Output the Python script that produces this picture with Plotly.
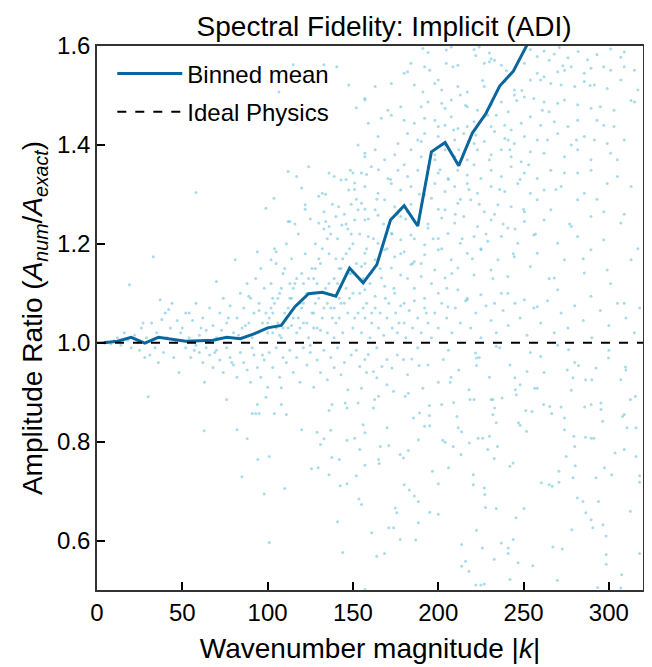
import plotly.graph_objects as go

# ---- binned mean ----
bin_k = [4, 12, 20, 28, 36, 44, 52, 60, 68, 76, 84, 92, 100, 108, 116, 124, 132, 140, 148, 156,
         164, 172, 180, 188, 196, 204, 212, 220, 228, 236, 244, 252, 260, 268]
bin_mean = [1.000, 1.003, 1.011, 0.999, 1.011, 1.007, 1.003, 1.004, 1.005, 1.011, 1.008, 1.018,
            1.030, 1.035, 1.073, 1.099, 1.102, 1.094, 1.151, 1.121, 1.158, 1.248, 1.277, 1.236,
            1.386, 1.405, 1.358, 1.424, 1.464, 1.519, 1.549, 1.602, 1.65, 1.70]

ideal_k = [0, 320]
ideal_r = [1.0, 1.0]

# ---- scatter samples (k, ratio) ----
pts_low_k = [
    (3,1.00),(6,1.002),(8,0.998),(10,1.004),(12,1.01),(14,0.995),(16,1.02),(18,1.005),(19,1.117),
    (20,0.99),(22,1.015),(24,1.00),(25,0.985),(26,1.03),(27,1.04),(28,0.97),(29,1.01),(30,0.891),
    (31,0.975),(32,1.04),(33,1.174),(34,0.99),(35,1.02),(36,0.96),(37,1.087),(38,1.047),(39,0.98),
    (40,1.06),(41,1.01),(42,1.067),(43,1.03),(44,1.08),(45,0.97),(46,1.0),(47,1.045),(48,0.94),(49,1.02),
]
pts_mid_k = [
    (50,1.03),(52,1.06),(54,1.06),(56,1.045),(58,1.08),(58,1.304),(60,1.015),(62,1.05),(64,1.025),
    (66,1.07),(68,1.035),(70,1.124),(70,1.01),(72,1.06),(74,1.09),(76,1.04),(78,1.075),(81,1.168),
    (89,1.094),(94,1.184),(80,1.02),(82,1.05),(84,1.10),(85,1.03),(86,1.07),(88,1.12),(89,1.04),
    (90,1.09),(91,1.01),(92,1.06),(93,1.13),(94,1.02),(95,1.08),(96,1.15),(97,1.04),(98,1.11),
    (99,1.06),(100,1.02),(99,1.272),
    (52,0.99),(55,0.97),(58,0.995),(60,0.98),(62,0.96),(63,0.92),(64,0.99),(66,0.975),(68,0.95),
    (70,0.985),(72,0.965),(74,0.94),(76,0.99),(76,0.885),(78,0.97),(80,0.955),(82,0.93),(84,0.98),
    (86,0.96),(88,0.945),(90,0.92),(92,0.975),(94,0.95),(96,0.93),(98,0.965),(99,0.89),(100,0.91),
    (62.8,0.822),(82,0.824),(85,0.729),(88,0.806),(91,0.857),(93,0.857),(95,0.857),(94,0.875),
    (94.3,0.764),(98,0.694),
    (54,1.01),(57,0.985),(61,1.03),(65,1.005),(69,0.98),(73,1.025),(77,1.05),(79,0.96),(83,1.015),
    (87,1.035),(91,0.99),(95,1.065),(97,0.975),
]
pts_k100 = [
    (101,1.05),(102,1.12),(103,1.02),(104,1.08),(105,1.16),(106,1.04),(107,1.10),(108,1.01),(109,1.14),
    (110,1.06),(111,1.20),(112,1.03),(113,1.09),(114,1.17),(115,1.05),(116,1.12),(117,1.02),(118,1.22),
    (119,1.08),(120,1.14),(121,1.04),(122,1.18),(123,1.10),(124,1.01),(125,1.25),(126,1.06),(127,1.13),
    (128,1.20),(129,1.03),(130,1.09),(131,1.16),(132,1.05),(133,1.23),(134,1.11),(135,1.02),(136,1.18),
    (137,1.07),(138,1.28),(139,1.13),(140,1.04),(141,1.21),(142,1.09),(143,1.15),(144,1.02),(145,1.26),
    (146,1.11),(147,1.06),(148,1.19),(149,1.14),(150,1.03),
    (102,1.07),(105,1.03),(108,1.11),(111,1.05),(114,1.09),(117,1.13),(120,1.07),(123,1.04),(126,1.15),
    (129,1.12),(132,1.19),(135,1.08),(138,1.05),(141,1.12),(144,1.17),(147,1.23),(150,1.10),(104,1.19),
    (110,1.15),(116,1.24),(122,1.27),(128,1.08),(134,1.30),(140,1.17),(146,1.33),(103,1.09),(113,1.12),
    (119,1.03),(127,1.06),(137,1.22),(143,1.08),(149,1.28),(102,1.168),(105,1.184),(113,1.245),
    (146,1.24),(150,1.20),(152,1.16),(154,1.22),(156,1.13),(158,1.19),(148,1.09),(153,1.06),(157,1.27),(151,1.31),
    (100,1.04),(103,1.06),(106,1.09),(109,1.03),(112,1.07),(115,1.11),(118,1.05),(121,1.08),(124,1.13),
    (127,1.03),(130,1.17),(133,1.07),(136,1.12),(139,1.01),(142,1.15),(145,1.08),(148,1.14),(151,1.05),
    (154,1.10),(157,1.16),(107,1.015),(114,1.035),(121,1.12),(128,1.15),(135,1.21),(142,1.05),(149,1.22),
    (156,1.07),(159,1.25),(125,0.995),(131,1.025),(139,1.07),(146,1.18),(152,1.29),(158,1.34),
    (101,0.98),(103,0.95),(105,0.99),(107,0.93),(109,0.97),(111,0.96),(113,0.985),(115,0.94),(117,0.97),
    (119,0.92),(121,0.99),(123,0.955),(125,0.98),(127,0.91),(129,0.965),(131,0.94),(133,0.985),(135,0.925),
    (137,0.97),(139,0.95),(141,0.99),(143,0.935),(145,0.96),(147,0.905),(149,0.975),
    (101,0.77),(101,0.596),(104,0.857),(108,0.875),(108,0.909),(110,0.705),(111,0.855),(120,0.824),
    (125.7,0.745),(129,0.819),(129.6,0.747),(131,0.794),(133,0.806),(136,0.863),(136,0.733),(137,0.823),
    (137.6,0.768),(137.7,0.875),(141,0.638),(142,0.764),(142.6,0.711),(144,0.576),(145.5,0.878),
    (146.5,0.868),(146.5,0.803),(146.5,0.715),
]
pts_upper_left = [
    (115,1.562),(133,1.562),(140.5,1.558),(106.6,1.507),(147.5,1.521),(157,1.491),(152,1.475),(153,1.40),
    (157,1.376),(124,1.356),(112,1.346),(117,1.336),(120,1.313),(136,1.343),(139,1.336),(143,1.329),
    (148.5,1.349),(150,1.343),(151,1.323),(147.5,1.309),(103.7,1.292),(112,1.245),(130,1.242),(134,1.245),
    (136,1.235),(140,1.255),(143.5,1.238),(151,1.248),(153,1.269),(141.6,1.275),(133,1.265),(122,1.279),
    (130,1.296),(132,1.302),
]
pts_upper = [
    (191,1.595),(194,1.587),(204.7,1.592),(207.6,1.598),(221,1.593),(222,1.581),(224,1.598),(230,1.586),
    (231,1.574),(254,1.593),(258,1.579),(262,1.590),(265,1.571),(268,1.584),(271,1.597),(276,1.576),
    (282,1.589),(287.5,1.572),(293,1.583),(301,1.594),(307,1.577),(309,1.588),
    (184,1.565),(182,1.548),(180,1.545),(192,1.558),(195,1.551),(204.7,1.565),(208.6,1.558),(211.5,1.561),
    (227,1.565),(230,1.568),(233,1.571),(237,1.561),(250.5,1.565),(258,1.545),(262,1.538),(270,1.548),
    (274,1.551),(278,1.558),(285.6,1.545),(289.5,1.555),(297,1.558),(301,1.551),(309,1.558),(315,1.551),
    (163,1.518),(172.5,1.524),(186,1.521),(191,1.507),(198,1.524),(200,1.531),(202,1.511),(211.5,1.518),
    (213,1.501),(217,1.507),(227,1.518),(239,1.528),(244.6,1.511),(254,1.531),(260,1.531),(266,1.524),
    (272,1.521),(280,1.518),(285.6,1.528),(291.5,1.521),(299,1.514),(307,1.531),(317,1.511),
    (157,1.494),(170.5,1.470),(178,1.477),(190,1.477),(194,1.487),(202,1.484),(204,1.474),(207.6,1.491),
    (217,1.477),(223,1.470),(231,1.481),(237,1.487),(241,1.467),(244.6,1.501),(250.5,1.497),(256,1.494),
    (262,1.487),(265,1.467),(270,1.484),(274,1.491),(281.7,1.481),(289.5,1.474),(295,1.477),(303,1.470),
    (315,1.487),
    (159,1.444),(166.7,1.454),(172.5,1.460),(180,1.450),(186,1.444),(192,1.454),(198,1.450),(200,1.437),
    (207.6,1.457),(211.5,1.433),(217,1.437),(221,1.447),(227,1.457),(231,1.437),(239,1.440),(242.7,1.430),
    (248.6,1.444),(254,1.457),(260,1.440),(268,1.447),(276,1.437),(281.7,1.450),(293,1.450),(303,1.437),
    (164.7,1.417),(176.4,1.403),(182,1.423),(190,1.407),(192,1.423),(200,1.417),(204,1.400),(209.6,1.410),
    (215,1.423),(221,1.403),(227,1.407),(233,1.427),(239,1.413),(244.6,1.403),(250.5,1.417),(258,1.410),
    (264,1.410),(270,1.423),(278,1.400),(285.6,1.417),(291.5,1.410),(299,1.403),(309,1.410),
    (157,1.383),(163,1.390),(168.6,1.370),(174.5,1.380),(184,1.390),(190,1.376),(198,1.370),(204,1.390),
    (209.6,1.376),(217,1.370),(223,1.390),(231,1.380),(237,1.390),(242.7,1.376),(248.6,1.366),(254,1.386),
    (262,1.383),(274,1.376),(281.7,1.390),(289.5,1.370),(301,1.383),
    (155,1.343),(160.8,1.356),(170.5,1.332),(176.4,1.349),(182,1.336),(188,1.349),(194,1.356),(200,1.343),
    (205.7,1.332),(211.5,1.349),(217,1.339),(225,1.332),(231,1.349),(237,1.336),(242.7,1.356),(250.5,1.343),
    (258,1.332),(266,1.349),(274,1.343),(281.7,1.343),(289.5,1.349),(305,1.336),
    (157,1.316),(164.7,1.302),(172.5,1.322),(178,1.309),(184,1.316),(192,1.299),(198,1.322),(204,1.306),
    (209.6,1.316),(217,1.322),(223,1.302),(231,1.316),(239,1.306),(246.6,1.322),(254,1.302),(262,1.309),
    (272,1.316),(285.6,1.302),(299,1.322),(313,1.316),
    (155,1.282),(163,1.269),(168.6,1.289),(174.5,1.275),(182,1.265),(190,1.279),(196,1.292),(204,1.269),
    (211.5,1.282),(219,1.289),(227,1.265),(235,1.279),(242.7,1.275),(250.5,1.265),(258,1.289),(266,1.269),
    (281.7,1.289),(297,1.265),
    (157,1.248),(164.7,1.258),(170.5,1.235),(178,1.255),(186,1.245),(194,1.232),(202,1.252),(209.6,1.242),
    (215,1.255),(223,1.235),(231,1.248),(240.8,1.232),(250.5,1.245),(262,1.248),(278,1.235),(289.5,1.255),
    (307,1.242),
    (159,1.215),(164.7,1.201),(172.5,1.221),(178,1.208),(184,1.218),(192,1.198),(200,1.211),(205.7,1.221),
    (213,1.201),(221,1.215),(229,1.205),(237,1.215),(246.6,1.201),(256,1.218),(270,1.201),(281.7,1.215),
    (297,1.208),
    (157,1.181),(163,1.168),(168.6,1.188),(174.5,1.174),(180,1.184),(186,1.164),(192,1.178),(200,1.188),
    (207.6,1.168),(217,1.181),(225,1.188),(235,1.168),(244.6,1.174),(258,1.181),(274,1.168),(289.5,1.188),
    (313,1.168),
    (155,1.154),(160.8,1.141),(166.7,1.131),(172.5,1.151),(178,1.137),(184,1.158),(190,1.134),(198,1.147),
    (204,1.131),(211.5,1.151),(221,1.137),(231,1.147),(240.8,1.134),(254,1.154),(268,1.131),(285.6,1.141),
    (299,1.147),
    (157,1.107),(163,1.094),(168.6,1.114),(174.5,1.100),(180,1.080),(186,1.110),(192,1.090),(200,1.100),
    (205.7,1.073),(211.5,1.107),(217,1.087),(225,1.097),(233,1.080),(240.8,1.100),(250.5,1.087),(258,1.073),
    (270,1.107),(289.5,1.094),(309,1.080),
    (160,1.12),(162,1.21),(164,1.29),(166,1.15),(168,1.24),(170,1.19),(172,1.33),(174,1.11),(176,1.26),
    (178,1.18),(180,1.36),(182,1.13),(184,1.28),(186,1.21),(188,1.41),(190,1.16),(192,1.31),(194,1.24),
    (196,1.12),(198,1.38),(200,1.27),(202,1.19),(204,1.44),(206,1.33),(208,1.14),(210,1.26),(212,1.39),
    (214,1.21),(216,1.48),(218,1.31),(220,1.17),(222,1.42),(224,1.28),(226,1.53),(228,1.22),(230,1.37),
    (232,1.13),(234,1.46),(236,1.31),(238,1.24),(240,1.55),(242,1.39),(244,1.18),(246,1.49),(248,1.33),
    (250,1.27),(161,1.06),(165,1.35),(169,1.09),(173,1.22),(177,1.04),(181,1.25),(185,1.16),(189,1.30),
    (193,1.06),(197,1.21),(201,1.35),(205,1.11),(209,1.43),(213,1.29),(217,1.09),(221,1.36),(225,1.19),
    (229,1.46),(233,1.26),(237,1.10),(241,1.41),(245,1.23),(249,1.51),
    (253,1.36),(257,1.22),(261,1.47),(265,1.13),(269,1.31),(273,1.56),(277,1.24),(281,1.41),(285,1.17),
    (289,1.52),(293,1.29),(297,1.44),(301,1.12),(305,1.37),(309,1.26),(313,1.49),(317,1.19),
]
pts_band = [
    (155,1.02),(157,1.05),(158,1.08),(160,1.01),(161,1.04),(163,1.07),(165,1.03),(166,1.06),(168,1.015),
    (170,1.05),(171,1.08),(173,1.03),(175,1.06),(176,1.02),(178,1.075),(180,1.04),(181,1.01),(183,1.065),
    (185,1.03),(186,1.085),(188,1.05),(190,1.02),(192,1.07),(194,1.04),(196,1.01),(198,1.06),(200,1.03),
    (202,1.08),(205,1.05),(208,1.02),(210,1.07),(213,1.04),(216,1.085),(219,1.03),(222,1.06),(225,1.01),
    (228,1.075),(231,1.045),(234,1.02),(238,1.065),(241,1.035),(245,1.08),(248,1.05),(252,1.015),(256,1.07),
    (260,1.04),(264,1.085),(268,1.02),(272,1.06),(276,1.03),(280,1.075),(285,1.045),(290,1.01),(295,1.065),
    (300,1.035),(305,1.08),(310,1.05),(315,1.02),(318,1.07),
    (152,0.985),(158,0.94),(164,0.99),(170,0.915),(176,0.975),(182,0.935),(188,0.99),(194,0.955),(200,0.92),
    (206,0.985),(212,0.945),(218,0.905),(224,0.97),(230,0.93),(236,0.99),(242,0.955),(248,0.915),(254,0.98),
    (262,0.94),(270,0.995),(280,0.96),(290,0.925),(300,0.985),(310,0.945),
]
pts_lower = [
    (151,0.807),(152,0.731),(153,0.878),(153.5,0.684),(154,0.784),(155,0.673),(156,0.834),(157,0.818),
    (157,0.752),(157,0.501),(159,0.976),(157,0.966),(154,0.952),(155,0.908),(161,0.616),(164,0.568),
    (168.5,0.574),(162,0.942),(164,0.929),(162.7,0.885),(165,0.892),(162,0.868),(170,0.828),(171,0.792),
    (166,0.79),(165,0.764),(165.4,0.756),(167,0.952),(170,0.966),(172.8,0.949),(173.8,0.902),(174.8,0.666),
    (175.7,0.656),(171,0.626),(173.8,0.626),(177.7,0.602),(177.7,0.774),(179.6,0.767),(180,0.713),
    (182.5,0.782),(183,0.702),(179.6,0.966),(180.6,0.892),(182.5,0.898),(184.5,0.967),(185.5,0.848),
    (186,0.69),(186.8,0.601),(188.4,0.804),(188.4,0.679),(188.4,0.636),(188.8,0.954),(191,0.908),
    (189,0.858),(192,0.831),(194.8,0.873),(194.8,0.853),(195,0.832),(195,0.657),(196.6,0.74),(200,0.715),
    (200,0.653),(202,0.875),(202.6,0.803),(204,0.799),(206,0.747),(203,0.966),(207.5,0.93),(207,0.92),
    (208.8,0.79),(209,0.879),(211,0.851),(211.7,0.828),(213.3,0.774),(213.7,0.82),(213.7,0.592),
    (213.7,0.548),(216,0.558),(218,0.538),(218.2,0.797),(218.6,0.885),(220.5,0.733),(220.5,0.713),
    (221,0.885),(221.8,0.979),(222.4,0.969),(222.4,0.954),(222.4,0.621),(222,0.51),(225,0.51),(227,0.512),
    (223.4,0.807),(226,0.807),(225.8,0.585),(227,0.706),(227.3,0.693),(227.7,0.667),(229,0.784),(230,0.811),
    (231,0.885),(232,0.885),(233,0.868),(232,0.855),(234,0.838),(232.8,0.766),(234.7,0.79),(234,0.665),
    (234,0.993),(232.8,0.562),(237,0.595),(237.4,0.888),(241,0.585),(241,0.574),(242,0.521),(242,0.75),
    (243.9,0.757),(243.9,0.602),(245.2,0.905),(244.9,0.929),(245.8,0.895),(245.6,0.646),(246.8,0.555),
    (247,0.838),(248,0.833),(250.3,0.665),(251.3,0.863),(251.7,0.821),(252,0.942),(255,0.861),(255.4,0.549),
    (256.5,0.908),(258,0.908),(260,0.972),(260.4,0.717),(261.8,0.875),(265,0.713),(265.3,0.871),
    (266.5,0.857),(266.8,0.71),(267.2,0.587),(269.8,0.519),(270.7,0.74),(270.7,0.718),(272,0.87),
    (272.7,0.583),(274,0.848),(274,0.824),(275,0.77),(275.6,0.945),(276.4,0.986),(278,0.904),(279,0.727),
    (278.3,0.622),(279,0.929),(279.5,0.811),(280,0.79),(280.3,0.751),(281.5,0.686),(282.2,0.954),
    (284.8,0.679),(285.8,0.87),(286.3,0.925),(286.3,0.809),(286.5,0.656),(289.6,0.807),(289.6,0.642),
    (290.6,0.626),(289.6,0.875),(291.2,0.807),(292.5,0.949),(292.5,0.727),(293.9,0.679),(295.4,0.878),
    (295.4,0.865),(296.4,0.841),(296.6,0.632),(297.4,0.747),(298.4,0.609),(298.4,0.572),(298.4,0.552),
    (299.8,0.969),(301.7,0.733),(303.6,0.777),(307,0.925),(307.5,0.531),(308,0.851),(309,0.855),(309,0.784),
    (309.7,0.951),(310.6,0.828),(312.6,0.659),(312.6,0.885),(315.5,0.892),(315.9,0.828),(315.9,0.77),
    (318,0.731),(318,0.718),(318,0.574),(293.5,0.505),(307,0.504),
]

all_pts = pts_low_k + pts_mid_k + pts_k100 + pts_upper_left + pts_upper + pts_band + pts_lower
scatter_k = [p[0] for p in all_pts]
scatter_r = [p[1] for p in all_pts]

FONT = "Liberation Sans, Arial, sans-serif"

fig = go.Figure()
fig.add_trace(go.Scatter(
    x=scatter_k, y=scatter_r, mode="markers",
    marker=dict(size=3, color="rgba(110,195,222,0.6)", line=dict(width=0)),
    showlegend=False, hoverinfo="skip"))
fig.add_trace(go.Scatter(
    x=bin_k, y=bin_mean, mode="lines", name="Binned mean", legendgroup="a",
    line=dict(color="#0b669d", width=3)))
fig.add_trace(go.Scatter(
    x=ideal_k, y=ideal_r, mode="lines", name="Ideal Physics", legendgroup="b",
    line=dict(color="black", width=2, dash="dash")))

axis_common = dict(
    showline=True, linecolor="#333333", linewidth=1.5, mirror=True,
    ticks="inside", ticklen=8, tickwidth=1.5, tickcolor="black",
    showgrid=False, zeroline=False,
    tickfont=dict(family=FONT, size=24, color="black"),
)
fig.update_xaxes(range=[0, 320], tickvals=[0, 50, 100, 150, 200, 250, 300],
                 title=dict(text="Wavenumber magnitude |<i>k</i>|",
                            font=dict(family=FONT, size=28, color="black"), standoff=14),
                 **axis_common)
fig.update_yaxes(range=[0.5, 1.6], tickvals=[0.6, 0.8, 1.0, 1.2, 1.4, 1.6], tickformat=".1f",
                 title=dict(text="Amplitude Ratio (<i>A</i><sub><i>num</i></sub>/<i>A</i><sub><i>exact</i></sub>)",
                            font=dict(family=FONT, size=28, color="black"), standoff=6),
                 **axis_common)
fig.update_layout(
    width=644, height=659,
    margin=dict(l=89, r=7, t=38, b=77),
    plot_bgcolor="white", paper_bgcolor="white",
    title=dict(text="Spectral Fidelity: Implicit (ADI)", x=0.584, xanchor="center",
               y=0.988, yanchor="top", font=dict(family=FONT, size=28, color="black")),
    legend=dict(x=0.028, y=0.99, xanchor="left", yanchor="top", bgcolor="rgba(255,255,255,0)",
                font=dict(family=FONT, size=24, color="black"), tracegroupgap=4, itemwidth=65),
    showlegend=True,
)
fig.write_html("out.html")
